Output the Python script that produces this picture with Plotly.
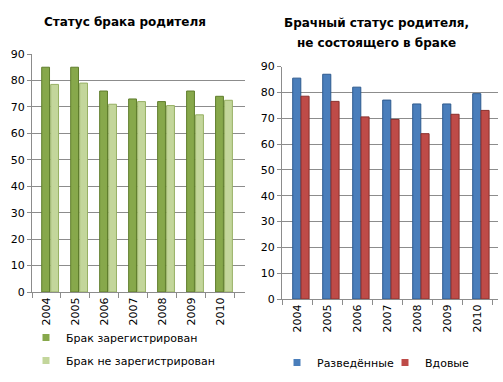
import plotly.graph_objects as go

years = ["2004", "2005", "2006", "2007", "2008", "2009", "2010"]
reg = [85, 85, 76, 73, 72, 76, 74]
unreg = [78.5, 79, 71, 72, 70.5, 67, 72.5]
divorced = [85.5, 87, 82, 77, 75.5, 75.5, 79.5]
widowed = [78.5, 76.5, 70.5, 69.5, 64, 71.5, 73]
yticks = [0, 10, 20, 30, 40, 50, 60, 70, 80, 90]

W, H = 503, 382
FONT = "DejaVu Sans"
fig = go.Figure()

def bar(y, name, fill, edge, xa, ya, leg, offset, width):
    fig.add_bar(x=years, y=y, name=name, xaxis=xa, yaxis=ya,
                marker=dict(color=fill, line=dict(color=edge, width=1)),
                offset=offset, width=width, legend=leg, legendgroup=name,
                showlegend=False)
    fig.add_scatter(x=[None], y=[None], mode="markers", name=name, xaxis=xa, yaxis=ya,
                    marker=dict(symbol="square", size=7, color=fill),
                    legend=leg, legendgroup=name)

bar(reg, "Брак зарегистрирован", "#87A84B", "#5F7D2C", "x", "y", "legend", -0.165, 0.27)
bar(unreg, "Брак не зарегистрирован", "#C3D69B", "#97B064", "x", "y", "legend", 0.145, 0.27)
bar(divorced, "Разведённые", "#4A7EBB", "#2E5A8E", "x2", "y2", "legend2", -0.143, 0.27)
bar(widowed, "Вдовые", "#BE4B48", "#8A302D", "x2", "y2", "legend2", 0.133, 0.27)

def xax(domain, anchor, rmax):
    return dict(domain=domain, anchor=anchor, type="category", range=[-0.5, rmax],
                tickangle=-90, tickfont=dict(family=FONT, size=11, color="#000"),
                showline=True, linecolor="#8C8C8C", ticks="outside", ticklen=5,
                tickcolor="#8C8C8C", tickson="boundaries", showgrid=False,
                automargin=False)

def yax(domain, anchor):
    return dict(domain=domain, anchor=anchor, range=[0, 90], tickvals=yticks,
                tickfont=dict(family=FONT, size=11, color="#000"),
                showline=True, linecolor="#8C8C8C", ticks="outside", ticklen=4,
                tickcolor="#8C8C8C", showgrid=True, gridcolor="#8C8C8C",
                gridwidth=1, zeroline=False, automargin=False)

def title(text, x, y):
    return dict(text="<b>" + text + "</b>", x=x / W, y=1 - y / H,
                xref="paper", yref="paper", showarrow=False,
                xanchor="center", yanchor="middle",
                font=dict(family=FONT, size=12))

fig.update_layout(
    width=W, height=H, margin=dict(l=0, r=0, t=0, b=0, autoexpand=False),
    paper_bgcolor="white", plot_bgcolor="white",
    barmode="overlay",
    font=dict(family=FONT, size=11, color="#000"),
    xaxis=xax([32 / W, 245 / W], "y", 6.85),
    yaxis=yax([1 - 292 / H, 1 - 54 / H], "x"),
    xaxis2=xax([282 / W, 498 / W], "y2", 6.7),
    yaxis2=yax([1 - 299 / H, 1 - 66.5 / H], "x2"),
    legend=dict(x=26 / W, y=1 - 323 / H, xanchor="left", yanchor="top",
                orientation="v", tracegroupgap=4, bgcolor="rgba(0,0,0,0)",
                font=dict(family=FONT, size=11), itemwidth=30),
    legend2=dict(x=277 / W, y=1 - 348 / H, xanchor="left", yanchor="top",
                 orientation="h", bgcolor="rgba(0,0,0,0)",
                 font=dict(family=FONT, size=11), entrywidth=63),
    annotations=[
        title("Статус брака родителя", 125, 22),
        title("Брачный статус родителя,", 376, 23),
        title("не состоящего в браке", 376, 43),
    ],
)

fig.write_html("out.html", config={"displayModeBar": False},
               post_script="document.body.style.margin='0';")
